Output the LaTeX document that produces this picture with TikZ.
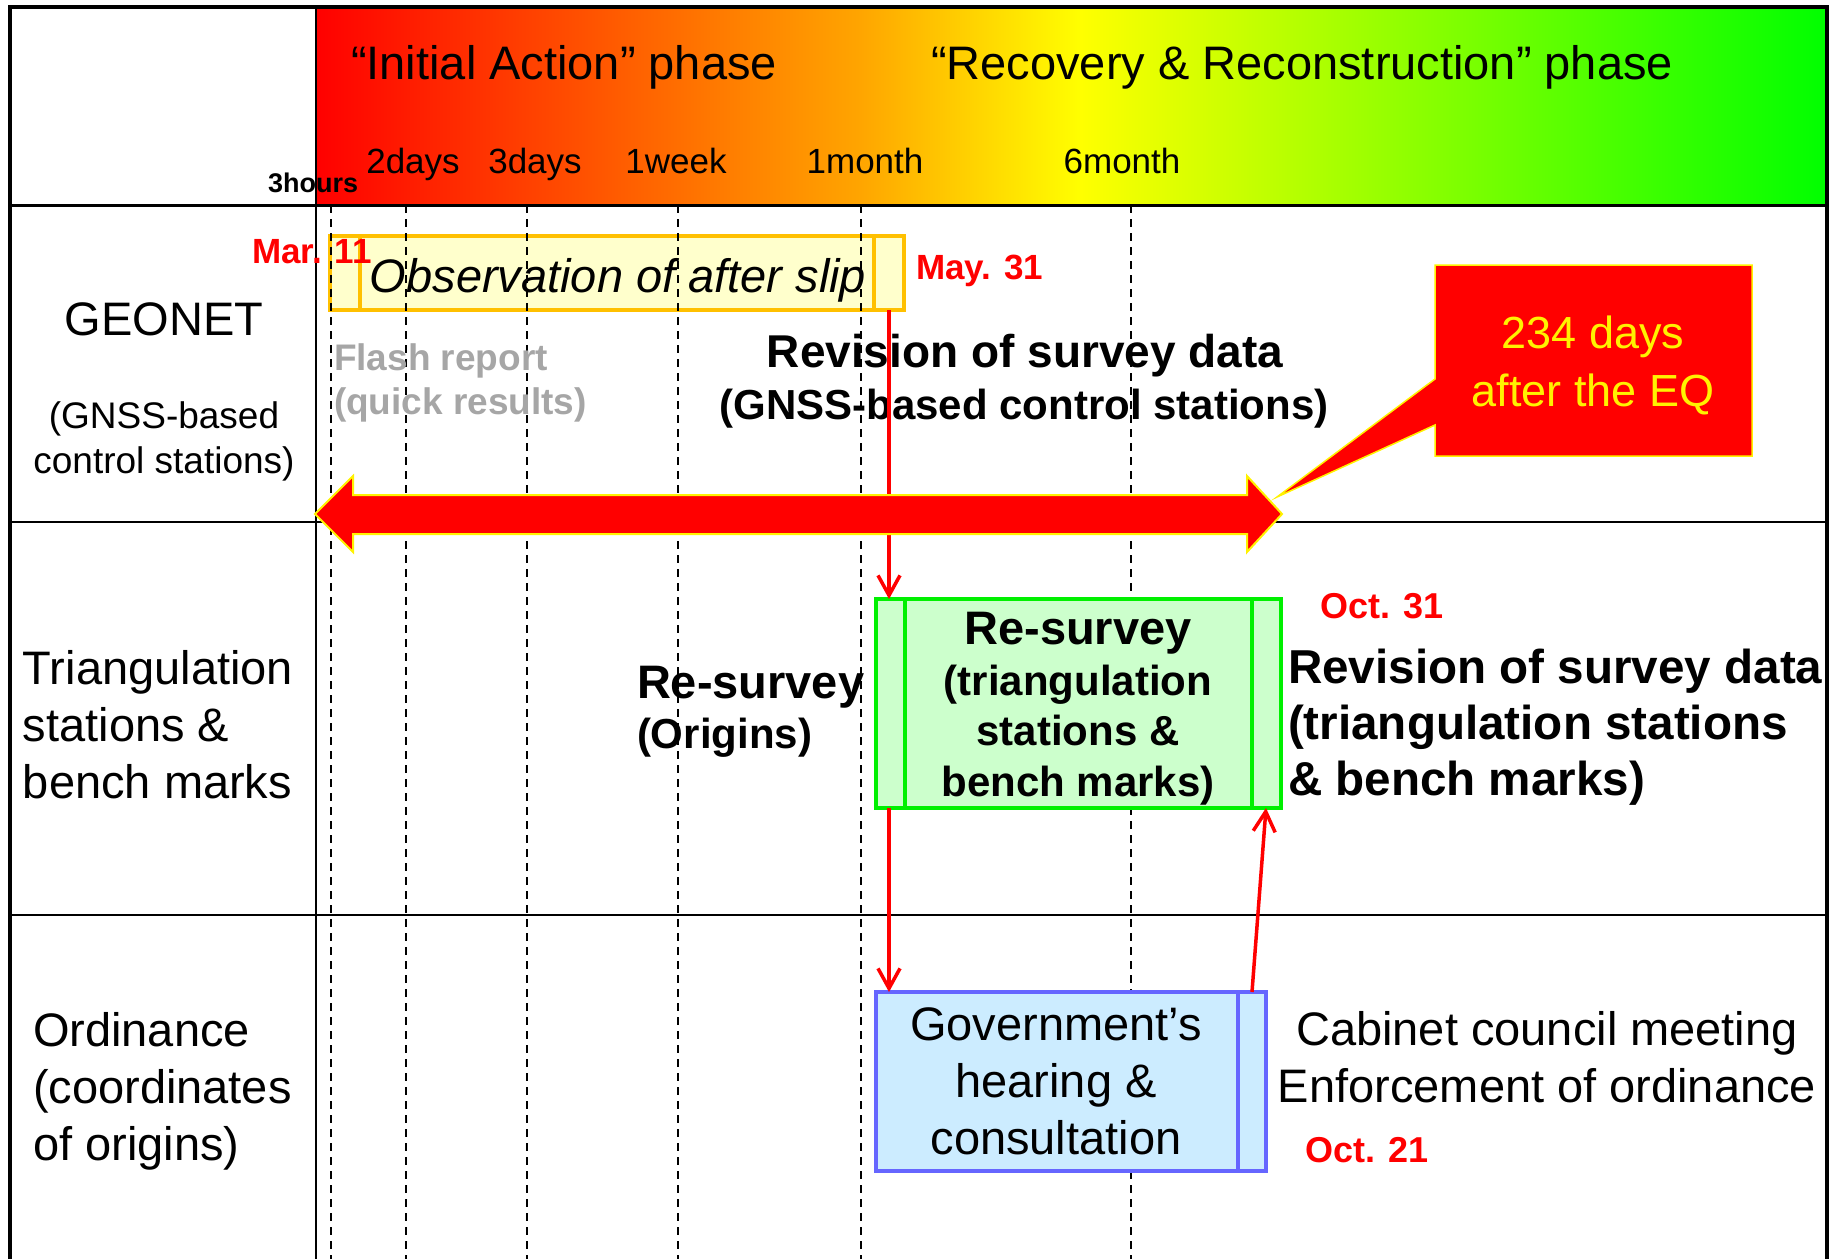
\documentclass[tikz,border=0pt]{standalone}
\usepackage{fontspec}
\setmainfont{Liberation Sans}
\usetikzlibrary{arrows.meta}
\definecolor{orangeC}{RGB}{255,165,0}
\definecolor{obstroke}{RGB}{255,192,0}
\definecolor{obfill}{RGB}{255,255,204}
\definecolor{gstroke}{RGB}{0,240,0}
\definecolor{gfill}{RGB}{204,255,204}
\definecolor{bstroke}{RGB}{102,102,255}
\definecolor{bfill}{RGB}{204,236,255}
\definecolor{flashgray}{RGB}{166,166,166}
\definecolor{pureg}{RGB}{0,255,0}
\pgfdeclarehorizontalshading{phaseshade}{100bp}{color(0bp)=(red); color(25bp)=(red); color(43bp)=(orangeC); color(50.3bp)=(yellow); color(75bp)=(pureg); color(100bp)=(pureg)}
\newcommand\fsz[2]{\fontsize{#1}{#2}\selectfont}
\begin{document}
\begin{tikzpicture}[x=1pt,y=-1pt,
  txt/.style={inner sep=0pt,outer sep=0pt},
  hdr/.style={txt,anchor=base,font=\fsz{47}{56}},
  tick/.style={txt,anchor=base,font=\fsz{35}{42}},
  rowlbl/.style={txt,anchor=base west,align=left,font=\fsz{47}{57}},
  datelbl/.style={txt,anchor=base west,text=red,font=\bfseries\fsz{35}{42}},
  dashline/.style={line width=1.3pt,dash pattern=on 8pt off 6pt},
  gridline/.style={line width=2.5pt},
  boxnode/.style={line width=4pt,inner sep=0pt,outer sep=0pt},
  redarr/.style={red,line width=3.5pt,-{Straight Barb[length=20pt,width=22pt]}},
]
\useasboundingbox (0,0) rectangle (1834,1259);
% header gradient
\shade[shading=phaseshade] (316,7) rectangle (1827,205);
% observation box (under the dashed lines)
\node[boxnode,draw=obstroke,fill=obfill,minimum width=574pt,minimum height=74pt] (obs) at (617,273) {};
\draw[obstroke,line width=4pt] (360,236) -- (360,310) (874,236) -- (874,310);
% dashed time lines
\foreach \x in {331,406,527,678,861,1131} \draw[dashline] (\x,205) -- (\x,1259);
% frame and grid
\draw[line width=4pt] (10,1259) -- (10,7) -- (1827,7) -- (1827,1259);
\draw[line width=3pt] (10,205) -- (1827,205);
\draw[gridline] (10,522) -- (1827,522) (10,915) -- (1827,915);
\draw[line width=2pt] (316,7) -- (316,1259);
% header texts
\node[hdr] (ph1) at (564,79) {“Initial Action” phase};
\node[hdr] (ph2) at (1302,79) {“Recovery \& Reconstruction” phase};
\node[tick] (t2d) at (413,173) {2days};
\node[tick] (t3d) at (535,173) {3days};
\node[tick] (t1w) at (676,173) {1week};
\node[tick] (t1m) at (865,173) {1month};
\node[tick] (t6m) at (1122,173) {6month};
\node[txt,anchor=base west,font=\bfseries\fsz{27}{32}] (t3h) at (268,192) {3hours};
% row labels (multi-line nodes: base = last line)
\node[txt,anchor=base,font=\fsz{47}{56}] (geonet) at (164,335) {GEONET};
\node[txt,anchor=base,align=center,font=\fsz{37}{45}] (gnss) at (164,473) {(GNSS-based\\control stations)};
\node[rowlbl] (tri) at (23,798) {Triangulation\\stations \&\\bench marks};
\node[rowlbl] (ord) at (33,1160) {Ordinance\\(coordinates\\of origins)};
% GEONET row
\node[txt,anchor=base east,text=red,font=\bfseries\fsz{35}{42}] (mar) at (372,263) {Mar. 11};
\node[txt,anchor=base,font=\itshape\fsz{47}{56}] (obstxt) at (618,292) {Observation of after slip};
\node[datelbl] (may) at (916,279) {May. 31};
\node[txt,anchor=base west,align=left,text=flashgray,font=\bfseries\fsz{37}{44}] (flash) at (334,414) {Flash report\\(quick results)};
\node[txt,anchor=base,font=\bfseries\fsz{46}{52}] (rev1) at (1025,367) {Revision of survey data};
\node[txt,anchor=base,font=\bfseries\fsz{42}{52}] (rev1b) at (1024,419) {(GNSS-based control stations)};
% triangulation row
\node[txt,anchor=base west,font=\bfseries\fsz{47}{56}] (rso) at (637,698) {Re-survey};
\node[txt,anchor=base west,font=\bfseries\fsz{42}{50}] (orig) at (637,748) {(Origins)};
\node[datelbl,font=\bfseries\fsz{36}{42}] (oct31) at (1320,618) {Oct. 31};
\node[txt,anchor=base west,align=left,font=\bfseries\fsz{47.6}{56}] (rev2) at (1288,795) {Revision of survey data\\(triangulation stations\\\& bench marks)};
% ordinance row
\node[txt,anchor=base,align=center,font=\fsz{47}{57}] (cab) at (1547,1102) {Cabinet council meeting\\Enforcement of ordinance};
\node[datelbl,font=\bfseries\fsz{36}{42}] (oct21) at (1305,1162) {Oct. 21};
% green box
\node[boxnode,draw=gstroke,fill=gfill,minimum width=405pt,minimum height=209pt] (grn) at (1078.5,703.5) {};
\draw[gstroke,line width=4pt] (905,599) -- (905,808) (1252,599) -- (1252,808);
\node[txt,anchor=base,align=center,font=\bfseries\fsz{42}{50.5}] (grntxt) at (1078,796) {{\fsz{47}{50.5}Re-survey}\\(triangulation\\stations \&\\bench marks)};
% blue box
\node[boxnode,draw=bstroke,fill=bfill,minimum width=390pt,minimum height=179pt] (blu) at (1071,1081.5) {};
\draw[bstroke,line width=4pt] (1238,992) -- (1238,1171);
\node[txt,anchor=base,align=center,font=\fsz{47}{57}] (blutxt) at (1056,1154) {Government’s\\hearing \&\\consultation};
% red connectors
\coordinate (ax) at (889,0);
\coordinate (bxa) at (1252,0);
\coordinate (bxb) at (1266,0);
\draw[redarr] (obs.south -| ax) -- (grn.north -| ax);
\draw[redarr] (grn.south -| ax) -- (blu.north -| ax);
\draw[redarr] (blu.north -| bxa) -- (grn.south -| bxb);
% big double arrow
\draw[fill=red,draw=yellow,line width=2pt,line join=miter] (315,514) -- (353,476) -- (353,495) -- (1247,495) -- (1247,476) -- (1282,514) -- (1247,552) -- (1247,534) -- (353,534) -- (353,552) -- cycle;
% callout
\draw[fill=red,draw=yellow,line width=1.5pt] (1435,265) -- (1752,265) -- (1752,456) -- (1435,456) -- (1435,425) -- (1277,497) -- (1435,379) -- cycle;
\node[txt,anchor=base,align=center,text=yellow,font=\fsz{45}{58}] (days) at (1593,406) {234 days\\after the EQ};
\end{tikzpicture}
\end{document}
